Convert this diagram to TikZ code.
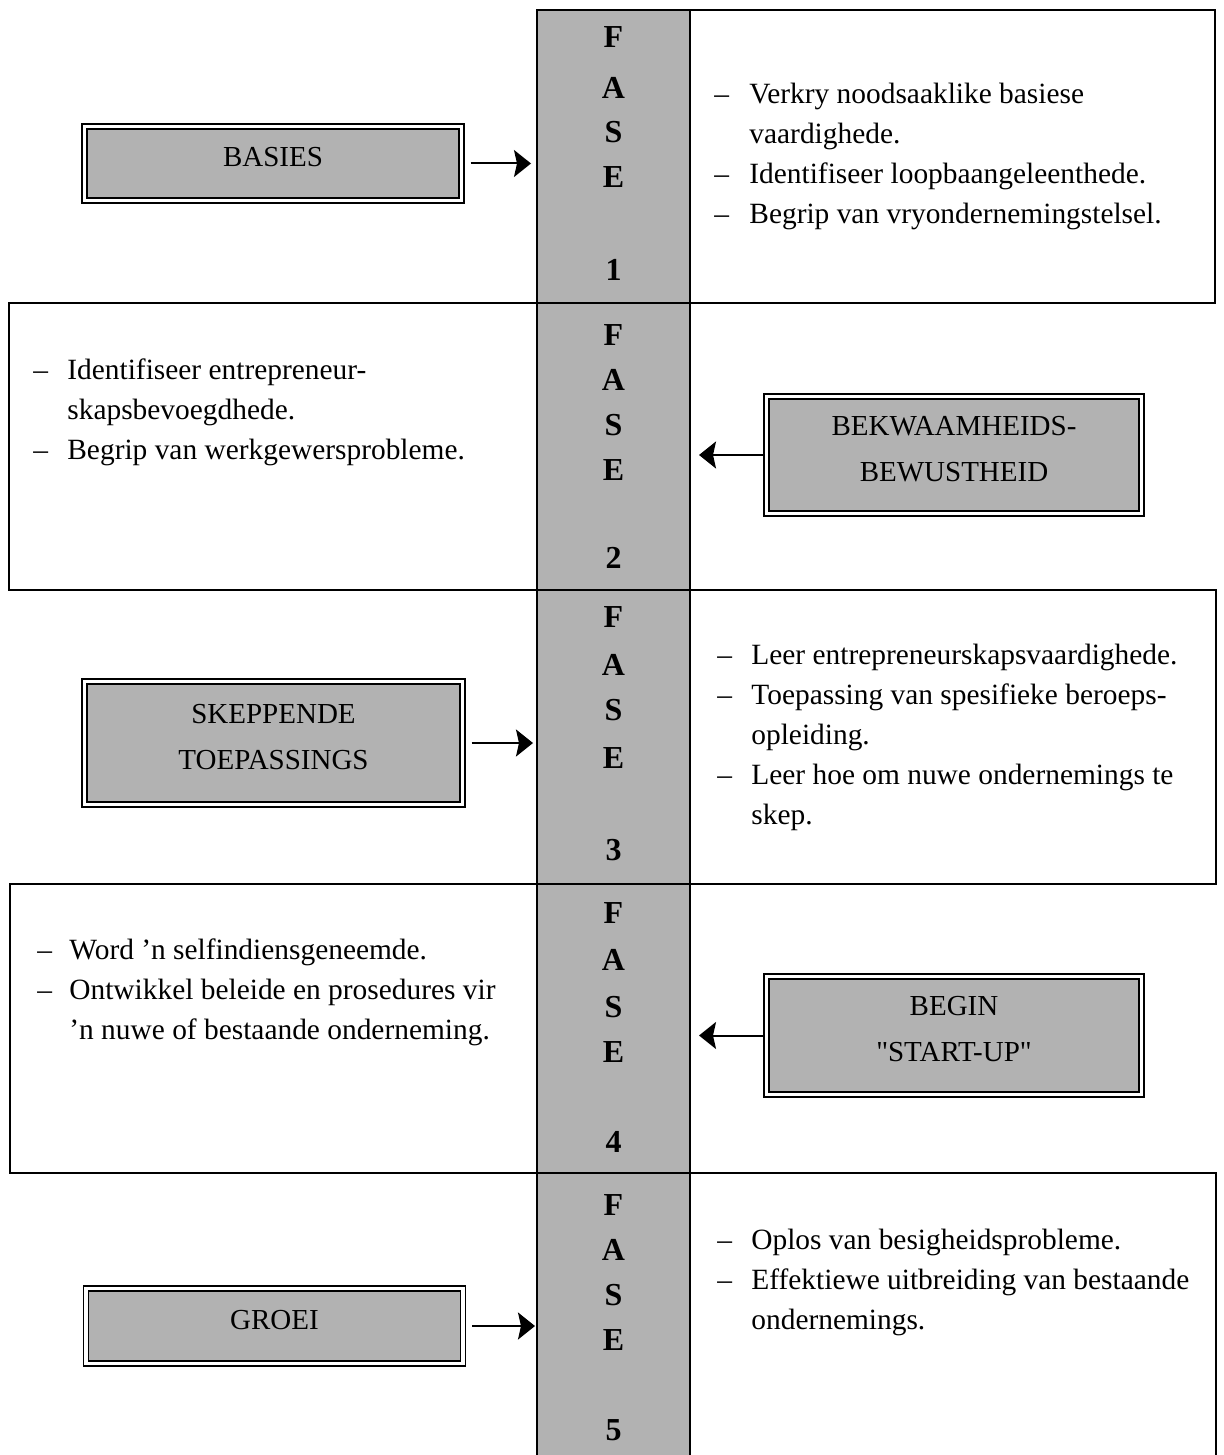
\documentclass[tikz,border=0pt]{standalone}
\usepackage{fontspec}
\setmainfont{Liberation Serif}[Ligatures=TeXOff]
\usetikzlibrary{fit,arrows.meta}
\definecolor{screen}{HTML}{B2B2B2}
\begin{document}
\begin{tikzpicture}[x=0.5pt,y=-0.5pt,
  frame/.style={draw, line width=1pt, inner sep=0pt, outer sep=0pt},
  cell/.style={frame, fill=screen},
  labelbox/.style={draw, line width=0.9pt, double=white, double distance=1.6pt, fill=screen, inner sep=0pt, outer sep=0pt},
  labeltext/.style={inner sep=0pt, align=center, font=\fontsize{14.5}{23}\selectfont},
  fase/.style={inner sep=0pt, font=\fontsize{16}{16}\selectfont\bfseries},
  body/.style={inner sep=0pt, font=\fontsize{14.7}{20}\selectfont},
  arr/.style={line width=1pt, -{Stealth[length=8.5pt,width=13.5pt,inset=1.5pt]}}
]
\useasboundingbox (0,0) rectangle (1223,1455);
\fill[white] (0,0) rectangle (1223,1455);
\begin{scope}
\clip (0,0) rectangle (1223,1455);
% phase column cells
\node[cell, fit={(537,10)(690,303)}] (c1) {};
\node[cell, fit={(537,303)(690,590)}] (c2) {};
\node[cell, fit={(537,590)(690,884)}] (c3) {};
\node[cell, fit={(537,884)(690,1173)}] (c4) {};
\node[cell, fit={(537,1173)(690,1480)}] (c5) {};
% row frames
\node[frame, fit={(690,10)(1215,303)}] (r1) {};
\node[frame, fit={(9,303)(537,590)}] (l2) {};
\node[frame, fit={(690,590)(1216,884)}] (r3) {};
\node[frame, fit={(10,884)(537,1173)}] (l4) {};
\node[frame, fit={(690,1173)(1216,1480)}] (r5) {};
\end{scope}
% FASE letters
\foreach \r/\a/\b/\c/\d/\e in {1/37/88/132/177/270, 2/335/380/425/470/558, 3/617/665/710/758/850, 4/913/960/1007/1052/1142, 5/1205/1250/1295/1340/1430}{
  \node[fase] (F\r) at (613.5,\a) {F};
  \node[fase] (A\r) at (613.5,\b) {A};
  \node[fase] (S\r) at (613.5,\c) {S};
  \node[fase] (E\r) at (613.5,\d) {E};
  \node[fase] (N\r) at (613.5,\e) {\r};
}
% labelled boxes
\node[labelbox, fit={(84.5,126.5)(461.5,200.5)}] (b1) {};
\node[labeltext] (b1t) at ([yshift=3pt]b1.center) {BASIES};
\node[labelbox, fit={(766.5,396.5)(1141.5,513.5)}] (b2) {};
\node[labeltext] (b2t) at ([yshift=3pt]b2.center) {BEKWAAMHEIDS-\\BEWUSTHEID};
\node[labelbox, fit={(84.5,681.5)(462.5,804.5)}] (b3) {};
\node[labeltext] (b3t) at ([yshift=3pt]b3.center) {SKEPPENDE\\TOEPASSINGS};
\node[labelbox, fit={(766.5,976.5)(1141.5,1094.5)}] (b4) {};
\node[labeltext] (b4t) at ([yshift=3pt]b4.center) {BEGIN\\"START-UP"};
\node[labelbox, fit={(86,1288.5)(463,1363.5)}] (b5) {};
\node[labeltext] (b5t) at ([yshift=3pt]b5.center) {GROEI};
% arrows
\draw[arr, shorten <=4.5pt, shorten >=3pt] (b1.east) -- (b1.east -| c1.west);
\draw[arr, shorten <=1.5pt, shorten >=4.5pt] (b2.west) -- (b2.west -| c2.east);
\draw[arr, shorten <=4.5pt, shorten >=2pt] (b3.east) -- (b3.east -| c3.west);
\draw[arr, shorten <=1.5pt, shorten >=4.5pt] (b4.west) -- (b4.west -| c4.east);
\draw[arr, shorten <=4.5pt, shorten >=1pt] (b5.east) -- (b5.east -| c5.west);
% bullet texts
\node[body, anchor=base west] (t1) at (714,104) {\begin{tabular}[t]{@{}p{17.5pt}@{}l@{}}
–&Verkry noodsaaklike basiese\\
 &vaardighede.\\
–&Identifiseer loopbaangeleenthede.\\
–&Begrip van vryondernemingstelsel.\end{tabular}};
\node[body, anchor=base west] (t2) at (33,379) {\begin{tabular}[t]{@{}p{17pt}@{}l@{}}
–&Identifiseer entrepreneur-\\
 &skapsbevoegdhede.\\
–&Begrip van werkgewersprobleme.\end{tabular}};
\node[body, anchor=base west] (t3) at (717,664) {\begin{tabular}[t]{@{}p{17pt}@{}l@{}}
–&Leer entrepreneurskapsvaardighede.\\
–&Toepassing van spesifieke beroeps-\\
 &opleiding.\\
–&Leer hoe om nuwe ondernemings te\\
 &skep.\end{tabular}};
\node[body, anchor=base west] (t4) at (37,959) {\begin{tabular}[t]{@{}p{16pt}@{}l@{}}
–&Word ’n selfindiensgeneemde.\\
–&Ontwikkel beleide en prosedures vir\\
 &’n nuwe of bestaande onderneming.\end{tabular}};
\node[body, anchor=base west] (t5) at (717,1249) {\begin{tabular}[t]{@{}p{17pt}@{}l@{}}
–&Oplos van besigheidsprobleme.\\
–&Effektiewe uitbreiding van bestaande\\
 &ondernemings.\end{tabular}};
\end{tikzpicture}
\end{document}
